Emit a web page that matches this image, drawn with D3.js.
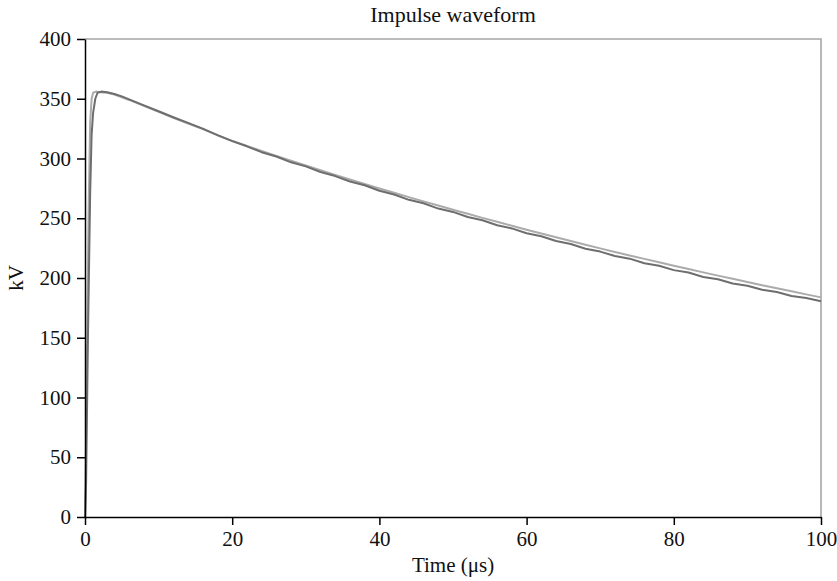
<!DOCTYPE html>
<html>
<head>
<meta charset="utf-8">
<script src="https://cdn.jsdelivr.net/npm/d3@7"></script>
<style>
  body { margin: 0; background: #fff; }
  svg { display: block; }
  text { font-family: "Liberation Serif", "DejaVu Serif", serif; fill: #111; }
</style>
</head>
<body>
<svg id="chart" width="837" height="581"></svg>
<script>
// Time axis (µs) and voltage (kV) for the two recorded impulse traces
const timeA = [0, 0.1, 0.3, 0.5, 0.7, 0.9, 1.1, 1.5, 2, 3, 4, 6, 8, 10, 12, 14, 16, 18, 20, 22, 24, 26, 28, 30,
  32, 34, 36, 38, 40, 42, 44, 46, 48, 50, 52, 54, 56, 58, 60, 62, 64, 66, 68, 70, 72, 74, 76, 78, 80,
  82, 84, 86, 88, 90, 92, 94, 96, 98, 100];
const voltA = [0, 40, 150, 260, 330, 350, 355, 356, 355.5, 355, 353.5, 349, 344, 339, 334, 329.3, 324.6, 319.5, 314.8, 310.5, 306.3, 302.2, 298.1, 294.1,
  290.2, 286.3, 282.4, 278.7, 274.9, 271.3, 267.7, 264.1, 260.6, 257.1, 253.7, 250.3, 247.0, 243.7, 240.4, 237.2, 234.1, 230.9, 227.9, 224.8, 221.8, 218.9, 216.0, 213.1, 210.3,
  207.5, 204.7, 202.0, 199.3, 196.6, 194.0, 191.4, 188.9, 186.3, 183.8];

const timeB = [0, 0.15, 0.4, 0.7, 0.9, 1.1, 1.4, 1.7, 2.2, 3, 4, 5, 6, 8, 10, 12, 14, 16, 18, 20, 22, 24, 26, 28, 30,
  32, 34, 36, 38, 40, 42, 44, 46, 48, 50, 52, 54, 56, 58, 60, 62, 64, 66, 68, 70, 72, 74, 76, 78, 80,
  82, 84, 86, 88, 90, 92, 94, 96, 98, 100];
const voltB = [0, 30, 150, 270, 320, 338, 350, 355, 356, 355.5, 354, 352, 349.5, 344.5, 339.5, 334.5, 329.8, 325.0, 319.5, 314.5, 310.2, 305.3, 301.7, 296.8, 293.4,
  288.7, 285.3, 280.8, 277.6, 273.0, 269.9, 265.4, 262.5, 258.1, 255.3, 251.0, 248.3, 244.1, 241.5, 237.4, 234.9, 230.9, 228.4, 224.5, 222.1, 218.4, 216.2, 212.4, 210.3, 206.6,
  204.6, 200.9, 199.0, 195.4, 193.5, 190.1, 188.3, 184.9, 183.2, 180.6];

const xTicks = [0, 20, 40, 60, 80, 100];
const yTicks = [0, 50, 100, 150, 200, 250, 300, 350, 400];

const chartTitle = "Impulse waveform";
const xLabel = "Time (\u03bcs)";
const yLabel = "kV";

const svg = d3.select("#chart");
const plot = { left: 85, right: 821, top: 39, bottom: 517 };

const x = d3.scaleLinear().domain([0, 100]).range([plot.left, plot.right]);
const y = d3.scaleLinear().domain([0, 400]).range([plot.bottom, plot.top]);

// Frame: top and right edges in grey
svg.append("path")
  .attr("d", `M${plot.left},${plot.top}H${plot.right}V${plot.bottom}`)
  .attr("fill", "none")
  .attr("stroke", "#a6a6a6")
  .attr("stroke-width", 1.6);

// Traces
const line = d3.line().x(d => x(d[0])).y(d => y(d[1]));
const seriesA = timeA.map((t, i) => [t, voltA[i]]);
const seriesB = timeB.map((t, i) => [t, voltB[i]]);

svg.append("path")
  .datum(seriesA)
  .attr("d", line)
  .attr("fill", "none")
  .attr("stroke", "#ababab")
  .attr("stroke-width", 2)
  .attr("stroke-linejoin", "round");

svg.append("path")
  .datum(seriesB)
  .attr("d", line)
  .attr("fill", "none")
  .attr("stroke", "#6e6e6e")
  .attr("stroke-width", 2)
  .attr("stroke-linejoin", "round");

// Axes
const fontSize = 21;
const yAxis = svg.append("g")
  .attr("transform", `translate(${plot.left},0)`)
  .call(d3.axisLeft(y).tickValues(yTicks).tickSize(8).tickPadding(6).tickSizeOuter(0));
const xAxis = svg.append("g")
  .attr("transform", `translate(0,${plot.bottom})`)
  .call(d3.axisBottom(x).tickValues(xTicks).tickSize(8).tickPadding(6).tickSizeOuter(0));

[yAxis, xAxis].forEach(g => {
  g.select(".domain").attr("stroke", "#000").attr("stroke-width", 1.5);
  g.selectAll(".tick line").attr("stroke", "#000").attr("stroke-width", 1.5);
  g.selectAll(".tick text")
    .attr("font-family", "Liberation Serif, serif")
    .attr("font-size", fontSize)
    .attr("fill", "#111");
});

// Titles
svg.append("text")
  .attr("x", (plot.left + plot.right) / 2)
  .attr("y", 22)
  .attr("text-anchor", "middle")
  .attr("font-size", 22)
  .text(chartTitle);

svg.append("text")
  .attr("x", (plot.left + plot.right) / 2)
  .attr("y", 572)
  .attr("text-anchor", "middle")
  .attr("font-size", fontSize)
  .text(xLabel);

svg.append("text")
  .attr("transform", `translate(23,${(plot.top + plot.bottom) / 2}) rotate(-90)`)
  .attr("text-anchor", "middle")
  .attr("font-size", fontSize)
  .text(yLabel);
</script>
</body>
</html>
